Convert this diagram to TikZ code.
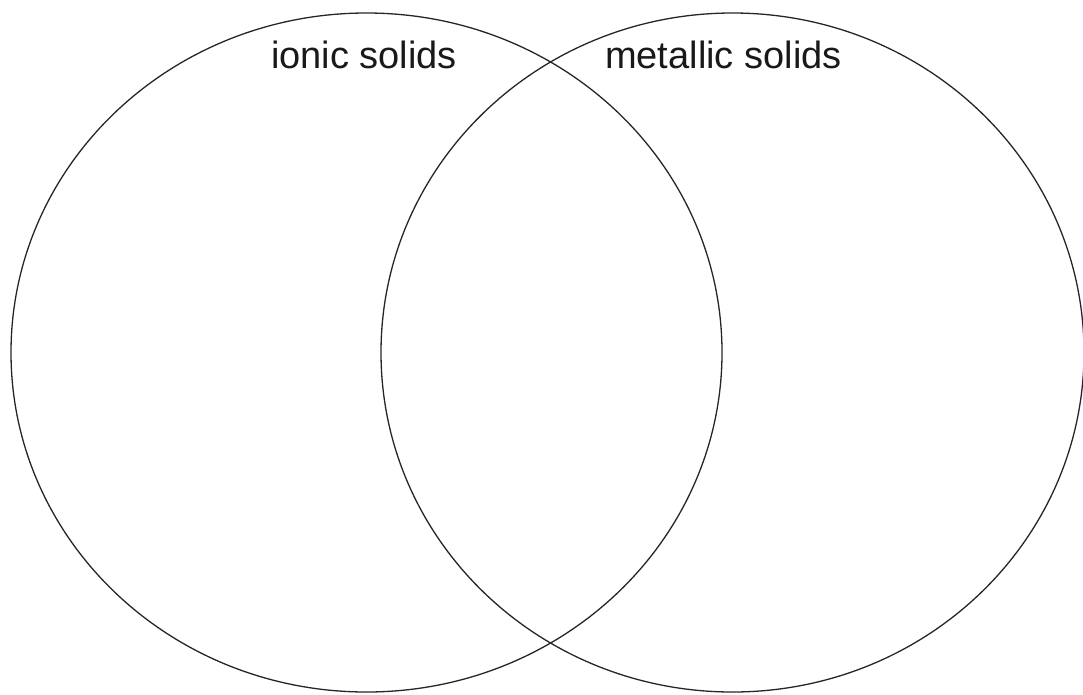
\documentclass[tikz,border=0pt]{standalone}
\usepackage{fontspec}
\setmainfont{Liberation Sans}
\begin{document}
\begin{tikzpicture}[x=1pt,y=-1pt,
  setc/.style={draw=black!85,line width=1.3pt},
  lbl/.style={anchor=base west,inner sep=0pt,font=\fontsize{38}{46}\selectfont,text=black!90}]
\useasboundingbox (0,0) rectangle (1083,694);
\draw[setc] (366.5,352.5) ellipse [x radius=355.5, y radius=339.5];
\draw[setc] (732.5,352.5) ellipse [x radius=351.5, y radius=339.5];
\node[lbl] (ionic) at (271,68) {ionic solids};
\node[lbl] (metal) at (605,68) {metallic solids};
\end{tikzpicture}
\end{document}
